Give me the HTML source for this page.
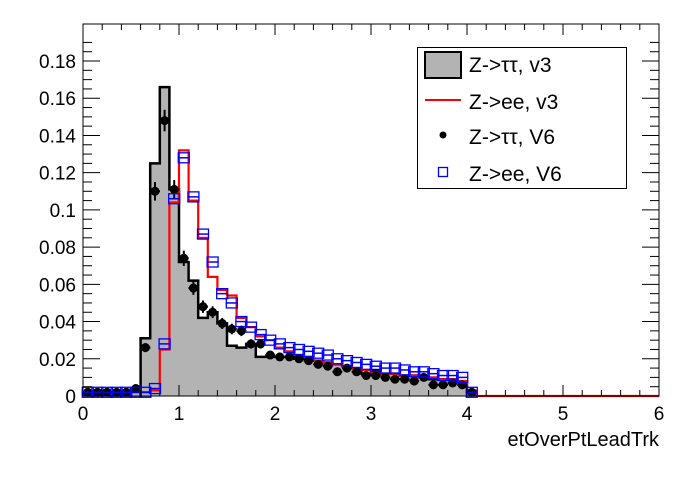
<!DOCTYPE html>
<html><head><meta charset="utf-8"><style>body{margin:0;background:#fff}svg text{font-family:"Liberation Sans",sans-serif}</style></head>
<body>
<svg id="s" width="696" height="472" xmlns="http://www.w3.org/2000/svg"></svg>
<script>
const X0=83,XS=96,Y0=396,YS=1861;
const X=v=>X0+v*XS, Y=v=>Y0-v*YS;
const gray=[0.002,0.002,0.002,0.002,0.002,0.004,0.031,0.125,0.166,0.111,0.072,0.062,0.042,0.045,0.039,0.027,0.026,0.028,0.021,0.021,0.021,0.021,0.020,0.020,0.019,0.018,0.017,0.016,0.015,0.012,0.014,0.012,0.012,0.011,0.011,0.010,0.009,0.009,0.009,0.008,0.002];
const red=[0.002,0.002,0.002,0.002,0.002,0.002,0.002,0.003,0.025,0.104,0.132,0.105,0.085,0.064,0.057,0.054,0.042,0.037,0.032,0.030,0.026,0.024,0.022,0.021,0.019,0.018,0.017,0.016,0.015,0.014,0.013,0.012,0.012,0.011,0.011,0.010,0.010,0.009,0.009,0.008,0.003];
const pts=[0.002,0.002,0.002,0.002,0.002,0.004,0.026,0.110,0.148,0.111,0.074,0.058,0.048,0.045,0.039,0.036,0.035,0.028,0.028,0.022,0.021,0.021,0.020,0.019,0.017,0.016,0.013,0.015,0.013,0.011,0.011,0.010,0.009,0.009,0.008,0.010,0.006,0.006,0.007,0.006,0.002];
const sq=[0.002,0.002,0.002,0.002,0.002,0.002,0.002,0.004,0.028,0.106,0.128,0.107,0.087,0.072,0.055,0.050,0.040,0.037,0.033,0.030,0.028,0.026,0.025,0.024,0.023,0.022,0.020,0.019,0.018,0.017,0.016,0.015,0.015,0.014,0.013,0.013,0.012,0.011,0.011,0.010,0.002];
function step(a){let d=`M${X(0)},${Y(0)}`;a.forEach((v,i)=>{d+=` L${X(i*0.1)},${Y(v)} L${X((i+1)*0.1)},${Y(v)}`});d+=` L${X(a.length*0.1)},${Y(0)}`;return d;}
let s='';
s+=`<path d="${step(gray)} Z" fill="#b3b3b3" stroke="none"/>`;
s+=`<path d="${step(gray)}" fill="none" stroke="#000" stroke-width="2.5"/>`;
s+=`<path d="${step(red)} L${X(6)},${Y(0)}" fill="none" stroke="#f00" stroke-width="2.2"/>`;
pts.forEach((v,i)=>{const cx=X(i*0.1+0.05),cy=Y(v),e=Math.max(2,Math.sqrt(v)*28);
s+=`<line x1="${cx}" y1="${cy-e}" x2="${cx}" y2="${cy+e}" stroke="#000" stroke-width="2"/><line x1="${cx-5}" y1="${cy}" x2="${cx+5}" y2="${cy}" stroke="#000" stroke-width="2"/><circle cx="${cx}" cy="${cy}" r="4.5" fill="#000"/>`;});
sq.forEach((v,i)=>{const cx=X(i*0.1+0.05),cy=Y(v);
s+=`<line x1="${cx-6}" y1="${cy}" x2="${cx+6}" y2="${cy}" stroke="#00f" stroke-width="1.5"/><rect x="${cx-5.5}" y="${cy-5}" width="11" height="10" fill="none" stroke="#00f" stroke-width="1.3"/>`;});
s+=`<rect x="83" y="24" width="576" height="372" fill="none" stroke="#000" stroke-width="1"/>`;
for(let i=0;i<=30;i++){const x=X(i*0.2),L=i%5==0?11:6;s+=`<line x1="${x}" y1="396" x2="${x}" y2="${396-L}" stroke="#000"/><line x1="${x}" y1="24" x2="${x}" y2="${24+L}" stroke="#000"/>`;}
for(let i=0;i*0.005<=0.19;i++){const y=Y(i*0.005);if(y<24)break;const L=i%4==0?17:9;s+=`<line x1="83" y1="${y}" x2="${83+L}" y2="${y}" stroke="#000"/><line x1="659" y1="${y}" x2="${659-L}" y2="${y}" stroke="#000"/>`;}
['0','0.02','0.04','0.06','0.08','0.1','0.12','0.14','0.16','0.18'].forEach((t,i)=>{s+=`<text x="76" y="${Y(i*0.02)+7}" font-size="19" text-anchor="end">${t}</text>`;});
for(let i=0;i<=6;i++)s+=`<text x="${X(i)}" y="420" font-size="19" text-anchor="middle">${i}</text>`;
s+=`<text x="659" y="446" font-size="20" text-anchor="end">etOverPtLeadTrk</text>`;
s+=`<rect x="417.5" y="47.5" width="209" height="141" fill="#fff" stroke="#000"/>`;
s+=`<rect x="425" y="52" width="36" height="26" fill="#b3b3b3" stroke="#000" stroke-width="2"/>`;
s+=`<line x1="425" y1="100" x2="461" y2="100" stroke="#f00" stroke-width="2"/>`;
s+=`<circle cx="443" cy="135" r="3.5" fill="#000"/>`;
s+=`<rect x="438.5" y="167.5" width="9" height="9" fill="none" stroke="#00f" stroke-width="1.3"/>`;
[['Z-&gt;ττ, v3',72],['Z-&gt;ee, v3',109],['Z-&gt;ττ, V6',144],['Z-&gt;ee, V6',181]].forEach(a=>{s+=`<text x="469" y="${a[1]}" font-size="21">${a[0]}</text>`;});
document.getElementById('s').innerHTML=s;
</script>
</body></html>
